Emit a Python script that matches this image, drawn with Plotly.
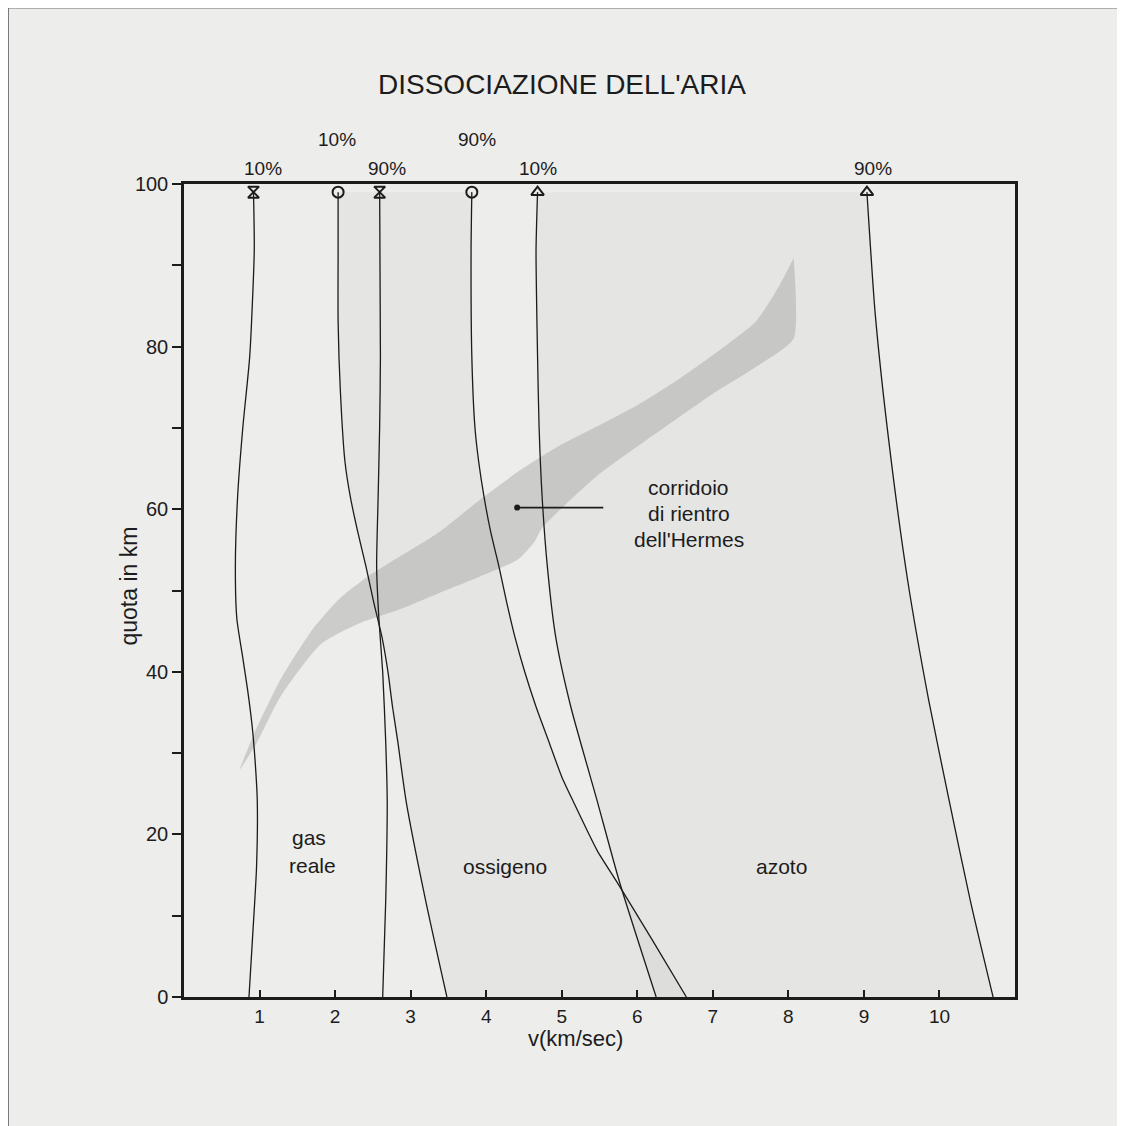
import plotly.graph_objects as go

# ---- data ----
# gas reale 10%
g10_y = [99, 91.8, 78.8, 70.2, 61.6, 52.9, 46.5, 42.2, 37.9, 33.5, 29.2, 24.1, 15.9, 7.7, 0]
g10_x = [0.92, 0.93, 0.87, 0.78, 0.71, 0.68, 0.70, 0.77, 0.84, 0.90, 0.94, 0.97, 0.96, 0.91, 0.86]
# gas reale 90%
g90_y = [99, 78.8, 70.2, 61.6, 52.9, 46.5, 40.0, 31.4, 24.1, 11.8, 0]
g90_x = [2.59, 2.60, 2.59, 2.57, 2.55, 2.58, 2.63, 2.67, 2.69, 2.67, 2.63]
# ossigeno 10%
o10_y = [99, 91.8, 83.1, 74.5, 65.9, 61.6, 57.2, 52.9, 48.6, 44.3, 40.0, 35.7, 31.4, 24.1, 11.8, 0]
o10_x = [2.04, 2.04, 2.04, 2.07, 2.13, 2.20, 2.30, 2.41, 2.51, 2.62, 2.70, 2.76, 2.83, 2.94, 3.20, 3.48]
# ossigeno 90%
o90_y = [99, 91.8, 78.8, 70.2, 65.9, 61.6, 57.2, 52.9, 48.6, 44.3, 40.0, 35.7, 31.4, 27.1, 24.1, 18.0, 14.0, 7.0, 0]
o90_x = [3.81, 3.80, 3.81, 3.85, 3.90, 3.97, 4.06, 4.17, 4.27, 4.38, 4.51, 4.66, 4.83, 5.00, 5.15, 5.47, 5.74, 6.20, 6.65]
# azoto 10%
n10_y = [99, 91.8, 78.8, 70.2, 61.6, 52.9, 44.3, 35.7, 24.1, 14.3, 0]
n10_x = [4.68, 4.66, 4.68, 4.70, 4.74, 4.81, 4.92, 5.12, 5.47, 5.76, 6.25]
# azoto 90%
n90_y = [99, 84.0, 67.6, 51.2, 36.4, 24.1, 11.8, 0]
n90_x = [9.04, 9.15, 9.34, 9.58, 9.86, 10.13, 10.41, 10.71]

# Hermes re-entry corridor (upper/left edge and lower/right edge)
cor_up_x = [0.74, 0.92, 1.28, 1.70, 2.07, 2.43, 2.86, 3.38, 3.91, 4.42, 4.95, 5.47, 6.00, 6.52, 7.05, 7.57, 7.88, 8.07]
cor_up_y = [28.0, 32.2, 39.1, 45.2, 49.1, 51.7, 54.2, 57.2, 61.1, 64.6, 67.7, 70.2, 72.8, 75.8, 79.3, 83.1, 87.5, 90.9]
cor_lo_x = [0.74, 0.97, 1.28, 1.81, 2.33, 2.86, 3.38, 3.91, 4.42, 4.64, 4.74, 5.47, 6.00, 6.52, 7.05, 7.57, 8.07, 8.07]
cor_lo_y = [28.0, 31.4, 37.0, 43.4, 46.0, 47.7, 49.7, 51.7, 53.8, 56.0, 57.7, 64.1, 67.7, 71.1, 74.5, 77.5, 81.0, 90.9]

# top markers and percentage labels (label heights in plot-fraction units)
mark_x = [0.92, 2.04, 2.59, 3.81, 4.68, 9.04]
mark_sym = ["hourglass-open", "circle-open", "hourglass-open", "circle-open", "triangle-up-open", "triangle-up-open"]
pct_text = ["10%", "10%", "90%", "90%", "10%", "90%"]
pct_x = [1.04, 2.02, 2.69, 3.88, 4.69, 9.12]
pct_y = [1.019, 1.055, 1.019, 1.055, 1.019, 1.019]

# region labels
reg_text = ["gas", "reale", "ossigeno", "azoto", "corridoio", "di rientro", "dell'Hermes"]
reg_x = [1.65, 1.70, 4.25, 7.91, 6.68, 6.68, 6.68]
reg_y = [19.6, 16.2, 16.0, 16.0, 62.7, 59.5, 56.3]

x_ticks = [1, 2, 3, 4, 5, 6, 7, 8, 9, 10]
y_ticks = [0, 10, 20, 30, 40, 50, 60, 70, 80, 90, 100]
y_ticktext = ["0", "", "20", "", "40", "", "60", "", "80", "", "100"]

BG = "#ededeb"
INK = "#1c1c1c"
FONT = "Liberation Sans, Arial, Helvetica, sans-serif"

fig = go.Figure()

# shaded bands (oxygen, nitrogen)
for xa, ya, xb, yb in [(o10_x, o10_y, o90_x, o90_y), (n10_x, n10_y, n90_x, n90_y)]:
    fig.add_trace(go.Scatter(x=xa + xb[::-1], y=ya + yb[::-1], fill="toself",
                             fillcolor="rgba(0,0,0,0.03)", line=dict(width=0), mode="lines",
                             hoverinfo="skip", showlegend=False))
# corridor
fig.add_trace(go.Scatter(x=cor_up_x + cor_lo_x[::-1], y=cor_up_y + cor_lo_y[::-1], fill="toself",
                         fillcolor="rgba(150,150,150,0.37)", line=dict(width=0, shape="spline", smoothing=0.6),
                         mode="lines", hoverinfo="skip", showlegend=False))

for xs, ys in [(g10_x, g10_y), (g90_x, g90_y), (o10_x, o10_y), (o90_x, o90_y), (n10_x, n10_y), (n90_x, n90_y)]:
    fig.add_trace(go.Scatter(x=xs, y=ys, mode="lines",
                             line=dict(color=INK, width=1.3, shape="spline", smoothing=0.6),
                             showlegend=False, hoverinfo="skip"))

# markers at top
fig.add_trace(go.Scatter(x=mark_x, y=[99.0] * len(mark_x), mode="markers",
                         marker=dict(symbol=mark_sym, size=11, color=INK, line=dict(width=2, color=INK)),
                         showlegend=False, hoverinfo="skip", cliponaxis=False))

# Hermes pointer
fig.add_trace(go.Scatter(x=[4.41, 5.55], y=[60.2, 60.2], mode="lines", line=dict(color=INK, width=1.8),
                         showlegend=False, hoverinfo="skip"))
fig.add_trace(go.Scatter(x=[4.41], y=[60.2], mode="markers", marker=dict(size=6, color=INK),
                         showlegend=False, hoverinfo="skip"))

ann = []
for t, xx, yy in zip(pct_text, pct_x, pct_y):
    ann.append(dict(x=xx, y=yy, yref="paper", text=t, showarrow=False,
                    font=dict(size=19, color=INK, family=FONT), xanchor="center", yanchor="middle"))
for t, xx, yy in zip(reg_text, reg_x, reg_y):
    ann.append(dict(x=xx, y=yy, text=t, showarrow=False, font=dict(size=21, color=INK, family=FONT),
                    xanchor="center", yanchor="middle"))
ann += [
    dict(x=0.4545, y=1.122, xref="paper", yref="paper", text="DISSOCIAZIONE DELL'ARIA", showarrow=False,
         font=dict(size=28, color=INK, family=FONT), xanchor="center", yanchor="middle"),
    dict(x=5.18, y=-0.0515, yref="paper", text="v(km/sec)", showarrow=False,
         font=dict(size=22, color=INK, family=FONT), xanchor="center", yanchor="middle"),
    dict(x=-0.0656, y=0.5055, xref="paper", yref="paper", text="quota in km", showarrow=False, textangle=-90,
         font=dict(size=23, color=INK, family=FONT), xanchor="center", yanchor="middle"),
]

fig.update_layout(
    width=1125, height=1126,
    margin=dict(l=176, r=118, t=176, b=137),
    paper_bgcolor=BG, plot_bgcolor=BG,
    font=dict(family=FONT, color=INK, size=19),
    annotations=ann,
    shapes=[dict(type="rect", xref="paper", yref="paper", x0=-0.2137, x1=1.1277, y0=-0.2, y1=1.219,
                 line=dict(color="#707070", width=5), layer="below")],
)
fig.update_xaxes(range=[0, 11], tickvals=x_ticks, ticks="inside", ticklen=7, tickwidth=2, tickcolor=INK,
                 showgrid=False, zeroline=False, showline=True, linecolor=INK, linewidth=2.5, mirror=True,
                 tickfont=dict(size=19))
fig.update_yaxes(range=[0, 100], tickvals=y_ticks, ticktext=y_ticktext, ticks="outside", ticklen=9,
                 tickwidth=2, tickcolor=INK, showgrid=False, zeroline=False, showline=True, linecolor=INK,
                 linewidth=2.5, mirror=True, tickfont=dict(size=20))

fig.write_html("out.html")
